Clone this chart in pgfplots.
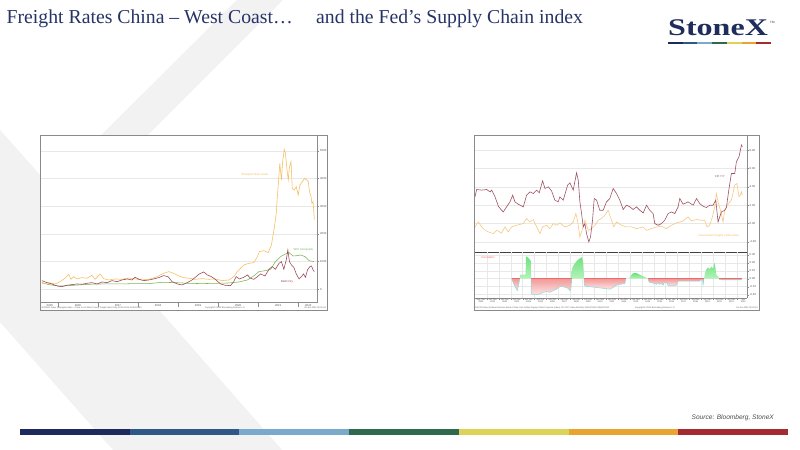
\documentclass[border=0pt]{standalone}
\usepackage{pgfplots}
\pgfplotsset{compat=1.18}
\usepackage{fontspec}
\setmainfont{Liberation Serif}
\newfontfamily\arial{Liberation Sans}
\definecolor{navy}{HTML}{263366}
\definecolor{logonavy}{HTML}{1F2D5C}
\definecolor{bgX}{HTML}{F2F2F2}
\definecolor{cA}{HTML}{1E2A5E}
\definecolor{cB}{HTML}{2F5888}
\definecolor{cC}{HTML}{79A9CB}
\definecolor{cD}{HTML}{2E6B4E}
\definecolor{cE}{HTML}{DDD35B}
\definecolor{cF}{HTML}{E9A431}
\definecolor{cG}{HTML}{A52B31}
\definecolor{framegray}{HTML}{8A8A8A}
\definecolor{axgray}{HTML}{8C8C8C}
\definecolor{gridgray}{HTML}{E8E8E8}
\definecolor{shwc}{HTML}{F6BC58}
\definecolor{baltic}{HTML}{98404F}
\definecolor{wci}{HTML}{78B452}
\definecolor{cpi}{HTML}{A05261}
\definecolor{gscpi}{HTML}{F7C883}
\definecolor{corrline}{HTML}{86DCDC}
\definecolor{posTop}{HTML}{6FE27E}
\definecolor{posBot}{HTML}{B5F3BC}
\definecolor{negTop}{HTML}{F29A9A}
\definecolor{negBot}{HTML}{FDE4E4}
\definecolor{corrred}{HTML}{F06A6A}
\newcommand\tinyf{\arial\fontsize{2.8}{3.1}\selectfont}
\newcommand\microf{\arial\fontsize{2.2}{2.4}\selectfont}
\begin{document}
\begin{tikzpicture}[x=1bp,y=1bp]
\path[use as bounding box, fill=white] (0,0) rectangle (800,450);
% background X stroke
\fill[bgX] (237,450) -- (283,450) -- (72,239) -- (282,0) -- (113,0) -- (0,128) -- (0,320) -- (50,264) -- cycle;
% title
\node[anchor=base west, inner sep=0, text=navy, font=\fontsize{19.8}{21}\selectfont] at (6.5,426) {Freight Rates China – West Coast…};
\node[anchor=base west, inner sep=0, text=navy, font=\fontsize{19.8}{21}\selectfont] at (316,426) {and the Fed’s Supply Chain index};
% logo
\node[anchor=base west, inner sep=0, text=logonavy] at (668,414) {\scalebox{1.34}[1]{\fontsize{24}{24}\selectfont\bfseries StoneX}};
\node[anchor=base west, inner sep=0, text=logonavy, font=\arial\fontsize{3}{3}\selectfont] at (770,426) {TM};
\foreach \c [count=\i from 0] in {cA,cB,cC,cD,cE,cF,cG}
  \fill[\c] ({668+\i*14.71},405.8) rectangle ({668+(\i+1)*14.71},408.3);
% bottom bar
\foreach \c [count=\i from 0] in {cA,cB,cC,cD,cE,cF,cG}
  \fill[\c] ({20+\i*109.71},15) rectangle ({20+(\i+1)*109.71},21);
\node[anchor=east, inner sep=0, text=black!70, font=\arial\itshape\fontsize{6.6}{7}\selectfont] at (774,32) {Source: Bloomberg, StoneX};

% ================= LEFT CHART =================
\draw[fill=white, draw=framegray, line width=0.9pt] (40.5,140) rectangle (327,315);
\begin{axis}[
  at={(41bp,147.7bp)}, anchor=south west, scale only axis,
  width=276.5bp, height=167.3bp,
  xmin=2015.58, xmax=2022.48, ymin=-470, ymax=5580,
  axis x line=bottom, axis y line=right, axis line style={-, draw=axgray, line width=0.6pt},
  /pgf/number format/assume math mode=true,
  /pgf/number format/1000 sep={},
  ytick={0,1000,2000,3000,4000,5000},
  ymajorgrids, major grid style={draw=gridgray, line width=0.9pt},
  yticklabel style={font=\tinyf, text=black!70, inner sep=1bp},
  ytick style={draw=axgray, line width=0.4pt}, major tick length=1.5bp, tick align=outside,
  xtick={2015.8,2016.5,2017.5,2018.5,2019.5,2020.5,2021.5,2022.25},
  xticklabels={2015,2016,2017,2018,2019,2020,2021,2022},
  xticklabel style={font=\tinyf, text=black!70, inner sep=0.6bp},
  xtick style={draw=none},
  extra x ticks={2016,2017,2018,2019,2020,2021,2022},
  extra x tick labels={},
  extra x tick style={xtick style={draw=axgray, line width=0.3pt}, major tick length=5bp, grid=none},
  clip=true,
]
\addplot[wci, line width=0.55pt] coordinates {
(2015.60,241)(2015.77,169)(2016.02,120)(2016.27,133)(2016.52,157)(2016.77,181)(2017.10,193)(2017.52,193)
(2017.93,205)(2018.27,205)(2018.60,253)(2018.93,241)(2019.27,217)(2019.60,205)(2019.93,217)(2020.27,229)
(2020.52,265)(2020.73,337)(2020.89,482)(2021.02,639)(2021.18,675)(2021.31,723)(2021.43,1000)(2021.56,1181)
(2021.68,1277)(2021.77,1325)(2021.87,1205)(2021.98,1217)(2022.06,1241)(2022.17,1181)(2022.27,1036)(2022.39,1000)};
\addplot[shwc, line width=0.55pt] coordinates {
(2015.60,193)(2015.77,241)(2015.93,193)(2016.06,277)(2016.18,398)(2016.27,542)(2016.33,361)(2016.39,458)
(2016.48,374)(2016.60,422)(2016.73,398)(2016.85,506)(2016.93,361)(2017.06,554)(2017.14,386)(2017.27,337)
(2017.43,374)(2017.60,361)(2017.77,410)(2017.93,374)(2018.10,337)(2018.31,374)(2018.48,458)(2018.64,578)
(2018.77,639)(2018.89,578)(2019.02,482)(2019.14,422)(2019.27,398)(2019.43,361)(2019.60,386)(2019.77,361)
(2019.93,374)(2020.10,313)(2020.27,337)(2020.39,458)(2020.48,639)(2020.56,759)(2020.64,880)(2020.77,940)
(2020.89,964)(2020.98,1181)(2021.03,1362)(2021.14,1398)(2021.25,1326)(2021.33,1603)(2021.40,2205)(2021.45,2747)
(2021.49,3590)(2021.54,4554)(2021.58,3952)(2021.61,4615)(2021.65,5060)(2021.68,4916)(2021.72,4313)(2021.75,3952)
(2021.78,4434)(2021.82,4615)(2021.85,3651)(2021.90,3590)(2021.95,3711)(2022.00,3410)(2022.04,3771)(2022.10,3892)
(2022.16,4012)(2022.21,3952)(2022.25,3892)(2022.28,3530)(2022.32,3350)(2022.34,3109)(2022.37,3169)(2022.40,2531)};
\addplot[baltic, line width=0.55pt] coordinates {
(2015.60,313)(2015.73,241)(2015.85,193)(2015.98,120)(2016.10,96)(2016.23,145)(2016.35,169)(2016.48,193)
(2016.60,181)(2016.73,217)(2016.85,241)(2016.98,193)(2017.10,265)(2017.23,241)(2017.35,313)(2017.48,277)
(2017.60,337)(2017.73,374)(2017.85,337)(2017.93,434)(2018.03,361)(2018.14,313)(2018.27,337)(2018.39,374)
(2018.52,422)(2018.64,494)(2018.75,458)(2018.85,277)(2018.98,193)(2019.10,157)(2019.23,241)(2019.35,337)
(2019.45,458)(2019.53,554)(2019.64,627)(2019.73,518)(2019.83,458)(2019.93,361)(2020.06,193)(2020.18,145)
(2020.31,133)(2020.39,277)(2020.45,458)(2020.53,374)(2020.64,434)(2020.73,518)(2020.81,398)(2020.89,361)
(2020.98,458)(2021.06,554)(2021.17,482)(2021.27,723)(2021.35,819)(2021.43,723)(2021.52,940)(2021.58,1000)
(2021.64,723)(2021.70,1060)(2021.74,1422)(2021.78,1000)(2021.83,880)(2021.89,795)(2021.95,554)(2022.02,374)
(2022.08,458)(2022.13,554)(2022.18,434)(2022.23,699)(2022.29,819)(2022.33,843)(2022.37,699)(2022.40,639)};
\node[font=\tinyf, text=shwc] at (axis cs:2020.91,4133) {Shanghai West Coast};
\node[font=\tinyf, text=wci] at (axis cs:2022.13,1422) {WCI Composite};
\node[font=\tinyf, text=baltic] at (axis cs:2021.72,265) {Baltic Dry};
\end{axis}
\node[anchor=west, inner sep=0, font=\microf, text=black!60] at (41.5,142.3) {WCIWCI Index (Shanghai Index - China to US West Coast) Freight rates Daily 02JUL2015-08JUN2022};
\node[inner sep=0, font=\microf, text=black!60] at (225,142.3) {Copyright© 2022 Bloomberg Finance L.P.};
\node[anchor=east, inner sep=0, font=\microf, text=black!60] at (326,142.3) {09-Jun-2022 09:25:43};

% ================= RIGHT CHART =================
\draw[fill=white, draw=framegray, line width=0.9pt] (474,140) rectangle (759,315);
\begin{axis}[
  at={(475bp,198bp)}, anchor=south west, scale only axis,
  width=272bp, height=117bp,
  xmin=2000, xmax=2022.82, ymin=-3.09, ymax=9.64,
  axis x line=bottom, axis y line=right, axis line style={-, draw=axgray, line width=0.6pt},
  x axis line style={draw=black!75, line width=0.9pt},
  /pgf/number format/assume math mode=true,
  /pgf/number format/.cd, fixed, fixed zerofill, precision=2, /pgfplots/.cd,
  ytick={-2,0,2,4,6,8},
  ymajorgrids, major grid style={draw=gridgray, line width=0.6pt},
  yticklabel style={font=\tinyf, text=black!70, inner sep=1bp},
  ytick style={draw=axgray, line width=0.4pt}, major tick length=1.5bp, tick align=outside,
  xtick=\empty,
  clip=true,
]
\addplot[gscpi, line width=0.6pt] coordinates {
(2000.00,-0.36)(2000.28,0.18)(2000.56,-0.36)(2000.84,-0.73)(2001.12,-0.91)(2001.54,-1.09)(2001.82,-0.73)(2002.23,-1.02)
(2002.51,-0.36)(2002.79,-0.91)(2003.07,-0.36)(2003.49,-0.18)(2004.05,0.00)(2004.33,0.55)(2004.61,0.18)(2004.89,0.44)
(2005.17,-0.36)(2005.45,-1.09)(2005.67,-0.36)(2006.01,-0.18)(2006.28,-0.55)(2006.56,0.00)(2006.84,-0.18)(2007.12,0.07)
(2007.54,-0.36)(2007.96,-0.18)(2008.24,0.18)(2008.46,1.09)(2008.60,0.36)(2008.80,-1.45)(2008.94,-0.91)(2009.22,0.36)
(2009.50,-0.73)(2009.78,-0.55)(2010.06,-0.18)(2010.34,0.36)(2010.61,0.55)(2010.89,0.91)(2011.17,1.45)(2011.45,0.36)
(2011.65,-0.36)(2011.87,0.18)(2012.29,-0.18)(2012.71,-0.36)(2013.13,-0.36)(2013.55,-0.55)(2014.11,-0.36)(2014.39,-0.73)
(2014.80,-0.55)(2015.22,-0.36)(2015.64,-0.29)(2016.06,-0.55)(2016.48,-0.18)(2016.90,0.07)(2017.46,0.29)(2017.88,0.73)
(2018.16,0.29)(2018.58,0.44)(2018.99,0.36)(2019.27,0.36)(2019.47,-0.36)(2019.69,-0.18)(2019.92,0.73)(2020.11,1.82)
(2020.25,3.27)(2020.39,2.36)(2020.59,1.45)(2020.81,0.18)(2020.95,1.45)(2021.15,2.00)(2021.51,2.55)(2021.79,4.18)
(2021.98,4.36)(2022.15,2.91)(2022.26,3.09)(2022.35,3.45)(2022.43,3.09)};
\addplot[cpi, line width=0.6pt] coordinates {
(2000.00,2.91)(2000.14,3.71)(2000.56,3.64)(2000.98,3.71)(2001.26,3.45)(2001.40,3.64)(2001.68,2.91)(2001.96,1.89)
(2002.23,1.45)(2002.37,1.27)(2002.65,1.82)(2002.93,2.36)(2003.16,3.09)(2003.35,2.36)(2003.63,2.11)(2004.05,1.82)
(2004.33,3.09)(2004.61,3.45)(2004.89,3.27)(2005.17,3.64)(2005.39,3.35)(2005.67,4.65)(2005.87,3.82)(2006.15,4.00)
(2006.42,3.56)(2006.70,2.55)(2006.98,2.36)(2007.12,2.91)(2007.40,2.55)(2007.77,4.18)(2007.96,4.44)(2008.24,3.64)
(2008.52,5.53)(2008.66,4.73)(2008.80,2.36)(2008.94,1.09)(2009.08,-0.36)(2009.22,0.00)(2009.36,-1.09)(2009.55,-2.00)
(2009.69,-1.45)(2009.86,0.36)(2010.00,2.73)(2010.20,2.55)(2010.47,1.45)(2010.75,1.45)(2011.03,2.36)(2011.31,2.73)
(2011.59,3.82)(2011.87,3.27)(2012.15,2.55)(2012.43,1.53)(2012.71,2.00)(2012.99,1.82)(2013.27,1.53)(2013.55,1.82)
(2013.83,1.45)(2014.11,1.16)(2014.39,2.00)(2014.66,1.45)(2014.94,1.09)(2015.08,0.00)(2015.36,-0.18)(2015.64,0.00)
(2015.92,0.36)(2016.20,1.09)(2016.48,1.27)(2016.76,1.09)(2017.04,1.82)(2017.18,2.73)(2017.46,2.11)(2017.88,2.36)
(2018.30,2.00)(2018.58,2.73)(2018.85,2.18)(2019.13,1.89)(2019.41,1.75)(2019.69,2.00)(2019.97,2.00)(2020.20,2.55)
(2020.39,0.18)(2020.67,1.27)(2020.95,1.45)(2021.09,1.75)(2021.31,3.82)(2021.51,5.45)(2021.79,5.45)(2021.93,6.73)
(2022.15,7.27)(2022.35,8.55)(2022.43,8.36)};
\node[font=\tinyf, text=cpi] at (axis cs:2020.53,5.16) {CPI Y/Y};
\node[font=\tinyf, text=shwc] at (axis cs:2020.45,-1.38) {Government Supply Chain Index};
\end{axis}
\begin{axis}[
  at={(475bp,151.7bp)}, anchor=south west, scale only axis,
  width=272bp, height=46.3bp,
  xmin=2000, xmax=2022.82, ymin=-0.245, ymax=0.335,
  axis x line=bottom, axis y line=right, axis line style={-, draw=axgray, line width=0.6pt},
  /pgf/number format/assume math mode=true,
  /pgf/number format/.cd, fixed, fixed zerofill, precision=2, /pgfplots/.cd,
  ytick={-0.2,-0.1,0,0.1,0.2,0.3},
  ymajorgrids, major grid style={draw=gridgray, line width=0.5pt},
  yticklabel style={font=\tinyf, text=black!70, inner sep=1bp},
  ytick style={draw=axgray, line width=0.4pt}, major tick length=1.5bp, tick align=outside,
  xtick={2001,2002,...,2022}, xticklabels={},
  xtick style={draw=axgray, line width=0.3pt},
  minor x tick num=3, xminorgrids, minor grid style={draw=gridgray, line width=0.3pt},
  xmajorgrids,
  extra x ticks={2000.5,2001.5,2002.5,2003.5,2004.5,2005.5,2006.5,2007.5,2008.5,2009.5,2010.5,2011.5,2012.5,2013.5,2014.5,2015.5,2016.5,2017.5,2018.5,2019.5,2020.5,2021.5,2022.5},
  extra x tick labels={Sep\ \ Dec\\2000,Jun\ Dec\\2001,Jun\ Dec\\2002,Jun\ Dec\\2003,Jun\ Dec\\2004,Jun\ Dec\\2005,Jun\ Dec\\2006,Jun\ Dec\\2007,Jun\ Dec\\2008,Jun\ Dec\\2009,Jun\ Dec\\2010,Jun\ Dec\\2011,Jun\ Dec\\2012,Jun\ Dec\\2013,Jun\ Dec\\2014,Jun\ Dec\\2015,Jun\ Dec\\2016,Jun\ Dec\\2017,Jun\ Dec\\2018,Jun\ Dec\\2019,Jun\ Dec\\2020,Jun\ Dec\\2021,Jun\ \\2022},
  extra x tick style={grid=none, major tick length=0pt, xticklabel style={font=\microf, text=black!70, align=center, inner sep=0.5bp}},
  clip=true,
]
% negative segments
\addplot[draw=corrline, line width=0.5pt, top color=negTop, bottom color=negBot] coordinates {
(2003.07,0)(2003.21,-0.05)(2003.44,-0.12)(2003.55,-0.15)(2003.68,-0.06)(2003.75,0)};
\addplot[draw=corrline, line width=0.5pt, top color=negTop, bottom color=negBot] coordinates {
(2004.70,0)(2004.72,-0.18)(2004.83,-0.20)(2005.17,-0.20)(2005.45,-0.19)(2005.73,-0.17)(2006.01,-0.16)(2006.28,-0.17)
(2006.56,-0.15)(2006.84,-0.13)(2007.12,-0.10)(2007.40,-0.10)(2007.82,-0.12)(2007.96,-0.15)(2008.04,-0.14)(2008.10,0)};
\addplot[draw=corrline, line width=0.5pt, top color=negTop, bottom color=negBot] coordinates {
(2009.15,0)(2009.17,-0.08)(2009.36,-0.10)(2009.64,-0.10)(2010.20,-0.11)(2010.75,-0.12)(2011.31,-0.13)(2011.59,-0.11)
(2011.87,-0.08)(2012.15,-0.07)(2012.57,-0.06)(2012.65,0)};
\addplot[draw=corrline, line width=0.5pt, top color=negTop, bottom color=negBot] coordinates {
(2014.52,0)(2014.60,-0.04)(2014.80,-0.05)(2015.08,-0.06)(2015.22,-0.07)(2015.36,-0.05)(2015.50,-0.07)(2015.64,-0.06)
(2015.78,-0.08)(2015.92,-0.04)(2016.06,-0.05)(2016.20,-0.08)(2016.34,-0.09)(2016.62,-0.09)(2016.90,-0.08)(2017.04,-0.03)
(2017.46,-0.03)(2018.02,-0.03)(2018.58,-0.03)(2018.85,-0.03)(2018.99,-0.01)(2019.10,-0.02)(2019.13,-0.08)(2019.20,-0.01)(2019.21,0)};
\addplot[draw=corrline, line width=0.5pt, top color=negTop, bottom color=negBot] coordinates {
(2020.50,0)(2020.52,-0.01)(2020.81,-0.015)(2022.35,-0.015)(2022.36,0)};
% positive segments
\addplot[draw=none, top color=posTop, bottom color=posBot] coordinates {
(2003.75,0)(2003.76,0.05)(2004.19,0.05)(2004.25,0.06)(2004.27,0.28)(2004.40,0.27)(2004.55,0.25)(2004.68,0.22)(2004.70,0)};
\addplot[draw=none, top color=posTop, bottom color=posBot] coordinates {
(2008.10,0)(2008.12,0.12)(2008.32,0.18)(2008.52,0.22)(2008.75,0.25)(2008.97,0.27)(2009.08,0.20)(2009.15,0)};
\addplot[draw=none, top color=posTop, bottom color=posBot] coordinates {
(2012.93,0)(2013.13,0.05)(2013.27,0.07)(2013.55,0.07)(2013.83,0.05)(2014.11,0.03)(2014.52,0)};
\addplot[draw=none, top color=posTop, bottom color=posBot] coordinates {
(2019.21,0)(2019.30,0.07)(2019.41,0.12)(2019.55,0.14)(2019.69,0.12)(2019.83,0.15)(2019.97,0.13)(2020.11,0.20)
(2020.25,0.05)(2020.39,0.03)(2020.50,0)};
% zero line of the negative parts
\addplot[corrred, line width=0.7pt] coordinates {(2003.07,0)(2003.75,0)};
\addplot[corrred, line width=0.7pt] coordinates {(2004.70,0)(2008.10,0)};
\addplot[corrred, line width=0.7pt] coordinates {(2009.15,0)(2012.65,0)};
\addplot[corrred, line width=0.7pt] coordinates {(2014.52,0)(2019.21,0)};
\addplot[corrred, line width=0.7pt] coordinates {(2020.50,0)(2022.36,0)};
\node[anchor=west, font=\tinyf, text=corrred, inner sep=0] at (axis cs:2000.5,0.27) {Correlation};
\end{axis}
\node[anchor=west, inner sep=0, font=\microf, text=black!60] at (475,142.3) {GSCPI Index (Federal Reserve Bank of New York Global Supply Chain Pressure Index) CPI YOY Index   Monthly 31AUG2000-31MAY2022};
\node[inner sep=0, font=\microf, text=black!60] at (655,142.3) {Copyright© 2022 Bloomberg Finance L.P.};
\node[anchor=east, inner sep=0, font=\microf, text=black!60] at (758,142.3) {09-Jun-2022 09:25:15};
\end{tikzpicture}
\end{document}
